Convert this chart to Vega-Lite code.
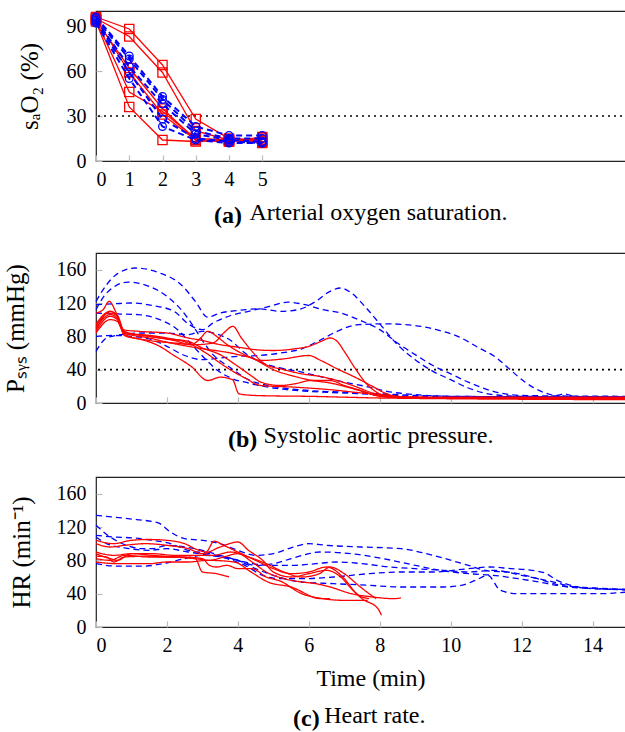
{
  "$schema": "https://vega.github.io/schema/vega-lite/v6.json",
  "padding": {"left": 2, "top": 9, "right": 0, "bottom": 0},
  "spacing": 23,
  "config": {
    "font": "Liberation Serif",
    "view": {"stroke": "#222222", "strokeWidth": 1.2},
    "axis": {"grid": false, "domain": false, "tickColor": "#bbbbbb", "tickSize": -6, "tickWidth": 1.2, "labelPadding": 14, "labelFontSize": 20, "labelColor": "#000000", "labelFont": "Liberation Serif", "titleFont": "Liberation Serif", "titleFontSize": 25, "titleFontWeight": "normal", "titleColor": "#000000"},
    "axisY": {"labelPadding": 16},
    "title": {"font": "Liberation Serif", "fontSize": 24, "fontWeight": "bold", "color": "#000000", "orient": "bottom", "anchor": "start", "frame": "group", "offset": 0, "dy": -24}
  },
  "datasets": {
    "sat": [
      {"s":"RA1","g":"A","t":0,"v":96},{"s":"RA1","g":"A","t":1,"v":88},{"s":"RA1","g":"A","t":2,"v":64},{"s":"RA1","g":"A","t":3,"v":28},{"s":"RA1","g":"A","t":4,"v":15},{"s":"RA1","g":"A","t":5,"v":14},
      {"s":"RA2","g":"A","t":0,"v":95},{"s":"RA2","g":"A","t":1,"v":83},{"s":"RA2","g":"A","t":2,"v":59},{"s":"RA2","g":"A","t":3,"v":20},{"s":"RA2","g":"A","t":4,"v":14},{"s":"RA2","g":"A","t":5,"v":13},
      {"s":"RA3","g":"A","t":0,"v":94},{"s":"RA3","g":"A","t":1,"v":62},{"s":"RA3","g":"A","t":2,"v":35},{"s":"RA3","g":"A","t":3,"v":14},{"s":"RA3","g":"A","t":4,"v":13},{"s":"RA3","g":"A","t":5,"v":16},
      {"s":"RA4","g":"A","t":0,"v":94},{"s":"RA4","g":"A","t":1,"v":46},{"s":"RA4","g":"A","t":2,"v":33},{"s":"RA4","g":"A","t":3,"v":15},{"s":"RA4","g":"A","t":4,"v":14},{"s":"RA4","g":"A","t":5,"v":13},
      {"s":"RA5","g":"A","t":0,"v":93},{"s":"RA5","g":"A","t":1,"v":36},{"s":"RA5","g":"A","t":2,"v":14},{"s":"RA5","g":"A","t":3,"v":13},{"s":"RA5","g":"A","t":4,"v":14},{"s":"RA5","g":"A","t":5,"v":12},
      {"s":"RA6","g":"A","t":0,"v":95},{"s":"RA6","g":"A","t":1,"v":59},{"s":"RA6","g":"A","t":2,"v":31},{"s":"RA6","g":"A","t":3,"v":14},{"s":"RA6","g":"A","t":4,"v":13},{"s":"RA6","g":"A","t":5,"v":15},
      {"s":"BA1","g":"B","t":0,"v":96},{"s":"BA1","g":"B","t":1,"v":70},{"s":"BA1","g":"B","t":2,"v":43},{"s":"BA1","g":"B","t":3,"v":23},{"s":"BA1","g":"B","t":4,"v":17},{"s":"BA1","g":"B","t":5,"v":17},
      {"s":"BA2","g":"B","t":0,"v":95},{"s":"BA2","g":"B","t":1,"v":68},{"s":"BA2","g":"B","t":2,"v":41},{"s":"BA2","g":"B","t":3,"v":20},{"s":"BA2","g":"B","t":4,"v":15},{"s":"BA2","g":"B","t":5,"v":15},
      {"s":"BA3","g":"B","t":0,"v":94},{"s":"BA3","g":"B","t":1,"v":63},{"s":"BA3","g":"B","t":2,"v":38},{"s":"BA3","g":"B","t":3,"v":18},{"s":"BA3","g":"B","t":4,"v":14},{"s":"BA3","g":"B","t":5,"v":13},
      {"s":"BA4","g":"B","t":0,"v":93},{"s":"BA4","g":"B","t":1,"v":59},{"s":"BA4","g":"B","t":2,"v":28},{"s":"BA4","g":"B","t":3,"v":15},{"s":"BA4","g":"B","t":4,"v":13},{"s":"BA4","g":"B","t":5,"v":12},
      {"s":"BA5","g":"B","t":0,"v":92},{"s":"BA5","g":"B","t":1,"v":55},{"s":"BA5","g":"B","t":2,"v":23},{"s":"BA5","g":"B","t":3,"v":14},{"s":"BA5","g":"B","t":4,"v":12},{"s":"BA5","g":"B","t":5,"v":12}
    ],
    "psys": [
      {"s":"PB1","g":"B","t":0,"v":122},{"s":"PB1","g":"B","t":0.3,"v":142},{"s":"PB1","g":"B","t":0.6,"v":155},{"s":"PB1","g":"B","t":1.1,"v":162},{"s":"PB1","g":"B","t":1.8,"v":156},{"s":"PB1","g":"B","t":2.4,"v":142},{"s":"PB1","g":"B","t":2.8,"v":122},{"s":"PB1","g":"B","t":3.15,"v":103},{"s":"PB1","g":"B","t":3.5,"v":108},{"s":"PB1","g":"B","t":4.0,"v":111},{"s":"PB1","g":"B","t":4.6,"v":113},{"s":"PB1","g":"B","t":5.2,"v":110},{"s":"PB1","g":"B","t":5.7,"v":112},{"s":"PB1","g":"B","t":6.2,"v":122},{"s":"PB1","g":"B","t":6.6,"v":134},{"s":"PB1","g":"B","t":6.9,"v":138},{"s":"PB1","g":"B","t":7.2,"v":132},{"s":"PB1","g":"B","t":7.6,"v":115},{"s":"PB1","g":"B","t":8.0,"v":95},{"s":"PB1","g":"B","t":8.5,"v":70},{"s":"PB1","g":"B","t":9.0,"v":52},{"s":"PB1","g":"B","t":9.5,"v":38},{"s":"PB1","g":"B","t":10.0,"v":28},{"s":"PB1","g":"B","t":10.5,"v":18},{"s":"PB1","g":"B","t":11.2,"v":10},{"s":"PB1","g":"B","t":12,"v":8},{"s":"PB1","g":"B","t":15,"v":7},
      {"s":"PB2","g":"B","t":0,"v":112},{"s":"PB2","g":"B","t":0.3,"v":132},{"s":"PB2","g":"B","t":0.9,"v":145},{"s":"PB2","g":"B","t":1.5,"v":140},{"s":"PB2","g":"B","t":2.0,"v":128},{"s":"PB2","g":"B","t":2.4,"v":112},{"s":"PB2","g":"B","t":2.7,"v":95},{"s":"PB2","g":"B","t":3.0,"v":75},{"s":"PB2","g":"B","t":3.3,"v":58},{"s":"PB2","g":"B","t":3.8,"v":42},{"s":"PB2","g":"B","t":4.3,"v":28},{"s":"PB2","g":"B","t":5,"v":20},{"s":"PB2","g":"B","t":6,"v":15},{"s":"PB2","g":"B","t":7,"v":13},{"s":"PB2","g":"B","t":8,"v":11},{"s":"PB2","g":"B","t":9,"v":9},{"s":"PB2","g":"B","t":10,"v":8},{"s":"PB2","g":"B","t":15,"v":7},
      {"s":"PB3","g":"B","t":0,"v":118},{"s":"PB3","g":"B","t":0.5,"v":119},{"s":"PB3","g":"B","t":1.0,"v":120},{"s":"PB3","g":"B","t":1.6,"v":117},{"s":"PB3","g":"B","t":2.2,"v":110},{"s":"PB3","g":"B","t":2.6,"v":95},{"s":"PB3","g":"B","t":3.0,"v":88},{"s":"PB3","g":"B","t":3.3,"v":96},{"s":"PB3","g":"B","t":3.8,"v":105},{"s":"PB3","g":"B","t":4.3,"v":110},{"s":"PB3","g":"B","t":4.9,"v":116},{"s":"PB3","g":"B","t":5.4,"v":121},{"s":"PB3","g":"B","t":5.9,"v":118},{"s":"PB3","g":"B","t":6.4,"v":112},{"s":"PB3","g":"B","t":6.9,"v":108},{"s":"PB3","g":"B","t":7.4,"v":100},{"s":"PB3","g":"B","t":8.0,"v":88},{"s":"PB3","g":"B","t":8.5,"v":72},{"s":"PB3","g":"B","t":9.0,"v":58},{"s":"PB3","g":"B","t":9.5,"v":45},{"s":"PB3","g":"B","t":10.0,"v":35},{"s":"PB3","g":"B","t":10.5,"v":25},{"s":"PB3","g":"B","t":11.2,"v":14},{"s":"PB3","g":"B","t":12,"v":9},{"s":"PB3","g":"B","t":15,"v":8},
      {"s":"PB4","g":"B","t":0,"v":108},{"s":"PB4","g":"B","t":0.5,"v":107},{"s":"PB4","g":"B","t":1.2,"v":106},{"s":"PB4","g":"B","t":1.8,"v":100},{"s":"PB4","g":"B","t":2.3,"v":88},{"s":"PB4","g":"B","t":2.7,"v":70},{"s":"PB4","g":"B","t":3.1,"v":52},{"s":"PB4","g":"B","t":3.4,"v":40},{"s":"PB4","g":"B","t":3.8,"v":30},{"s":"PB4","g":"B","t":4.3,"v":24},{"s":"PB4","g":"B","t":5.0,"v":18},{"s":"PB4","g":"B","t":6.0,"v":14},{"s":"PB4","g":"B","t":7.0,"v":12},{"s":"PB4","g":"B","t":8,"v":10},{"s":"PB4","g":"B","t":9,"v":8},{"s":"PB4","g":"B","t":15,"v":7},
      {"s":"PB5","g":"B","t":0,"v":80},{"s":"PB5","g":"B","t":0.5,"v":81},{"s":"PB5","g":"B","t":1.0,"v":80},{"s":"PB5","g":"B","t":1.5,"v":77},{"s":"PB5","g":"B","t":2.0,"v":68},{"s":"PB5","g":"B","t":2.5,"v":57},{"s":"PB5","g":"B","t":3.0,"v":52},{"s":"PB5","g":"B","t":3.5,"v":54},{"s":"PB5","g":"B","t":4.0,"v":56},{"s":"PB5","g":"B","t":4.6,"v":57},{"s":"PB5","g":"B","t":5.2,"v":60},{"s":"PB5","g":"B","t":5.8,"v":65},{"s":"PB5","g":"B","t":6.3,"v":75},{"s":"PB5","g":"B","t":6.8,"v":86},{"s":"PB5","g":"B","t":7.4,"v":94},{"s":"PB5","g":"B","t":8.2,"v":95},{"s":"PB5","g":"B","t":9.0,"v":93},{"s":"PB5","g":"B","t":9.6,"v":88},{"s":"PB5","g":"B","t":10.2,"v":80},{"s":"PB5","g":"B","t":10.8,"v":66},{"s":"PB5","g":"B","t":11.3,"v":54},{"s":"PB5","g":"B","t":11.6,"v":43},{"s":"PB5","g":"B","t":12.1,"v":25},{"s":"PB5","g":"B","t":12.6,"v":13},{"s":"PB5","g":"B","t":13.0,"v":9},{"s":"PB5","g":"B","t":13.2,"v":11},{"s":"PB5","g":"B","t":13.5,"v":8},{"s":"PB5","g":"B","t":15,"v":7},
      {"s":"PB6","g":"B","t":0,"v":62},{"s":"PB6","g":"B","t":0.3,"v":78},{"s":"PB6","g":"B","t":0.7,"v":82},{"s":"PB6","g":"B","t":1.3,"v":84},{"s":"PB6","g":"B","t":2.0,"v":84},{"s":"PB6","g":"B","t":2.6,"v":82},{"s":"PB6","g":"B","t":3.0,"v":86},{"s":"PB6","g":"B","t":3.3,"v":84},{"s":"PB6","g":"B","t":3.8,"v":75},{"s":"PB6","g":"B","t":4.2,"v":60},{"s":"PB6","g":"B","t":4.6,"v":50},{"s":"PB6","g":"B","t":5.2,"v":42},{"s":"PB6","g":"B","t":5.8,"v":37},{"s":"PB6","g":"B","t":6.3,"v":32},{"s":"PB6","g":"B","t":7.0,"v":25},{"s":"PB6","g":"B","t":7.6,"v":20},{"s":"PB6","g":"B","t":8.2,"v":14},{"s":"PB6","g":"B","t":9,"v":10},{"s":"PB6","g":"B","t":10,"v":8},{"s":"PB6","g":"B","t":15,"v":7},
      {"s":"PR1","g":"A","t":0,"v":108},{"s":"PR1","g":"A","t":0.2,"v":112},{"s":"PR1","g":"A","t":0.37,"v":122},{"s":"PR1","g":"A","t":0.55,"v":110},{"s":"PR1","g":"A","t":0.75,"v":88},{"s":"PR1","g":"A","t":1.2,"v":86},{"s":"PR1","g":"A","t":2.0,"v":84},{"s":"PR1","g":"A","t":2.6,"v":78},{"s":"PR1","g":"A","t":3.0,"v":75},{"s":"PR1","g":"A","t":3.5,"v":70},{"s":"PR1","g":"A","t":4.0,"v":67},{"s":"PR1","g":"A","t":4.5,"v":64},{"s":"PR1","g":"A","t":5.0,"v":63},{"s":"PR1","g":"A","t":5.6,"v":65},{"s":"PR1","g":"A","t":6.0,"v":68},{"s":"PR1","g":"A","t":6.35,"v":74},{"s":"PR1","g":"A","t":6.6,"v":78},{"s":"PR1","g":"A","t":6.8,"v":74},{"s":"PR1","g":"A","t":7.0,"v":62},{"s":"PR1","g":"A","t":7.3,"v":42},{"s":"PR1","g":"A","t":7.65,"v":22},{"s":"PR1","g":"A","t":8.0,"v":11},{"s":"PR1","g":"A","t":8.4,"v":7},{"s":"PR1","g":"A","t":10,"v":6},{"s":"PR1","g":"A","t":15,"v":6},
      {"s":"PR2","g":"A","t":0,"v":92},{"s":"PR2","g":"A","t":0.35,"v":108},{"s":"PR2","g":"A","t":0.6,"v":105},{"s":"PR2","g":"A","t":0.8,"v":86},{"s":"PR2","g":"A","t":1.5,"v":80},{"s":"PR2","g":"A","t":2.2,"v":75},{"s":"PR2","g":"A","t":2.7,"v":70},{"s":"PR2","g":"A","t":2.95,"v":78},{"s":"PR2","g":"A","t":3.15,"v":86},{"s":"PR2","g":"A","t":3.4,"v":80},{"s":"PR2","g":"A","t":3.7,"v":70},{"s":"PR2","g":"A","t":4.0,"v":62},{"s":"PR2","g":"A","t":4.5,"v":52},{"s":"PR2","g":"A","t":5.0,"v":40},{"s":"PR2","g":"A","t":5.6,"v":32},{"s":"PR2","g":"A","t":6.1,"v":27},{"s":"PR2","g":"A","t":6.6,"v":24},{"s":"PR2","g":"A","t":7.0,"v":20},{"s":"PR2","g":"A","t":7.5,"v":14},{"s":"PR2","g":"A","t":7.9,"v":9},{"s":"PR2","g":"A","t":8.3,"v":7},{"s":"PR2","g":"A","t":10,"v":6},{"s":"PR2","g":"A","t":15,"v":5},
      {"s":"PR3","g":"A","t":0,"v":88},{"s":"PR3","g":"A","t":0.4,"v":110},{"s":"PR3","g":"A","t":0.6,"v":104},{"s":"PR3","g":"A","t":0.8,"v":82},{"s":"PR3","g":"A","t":1.5,"v":75},{"s":"PR3","g":"A","t":2.2,"v":72},{"s":"PR3","g":"A","t":2.8,"v":70},{"s":"PR3","g":"A","t":3.3,"v":72},{"s":"PR3","g":"A","t":3.6,"v":84},{"s":"PR3","g":"A","t":3.86,"v":92},{"s":"PR3","g":"A","t":4.1,"v":78},{"s":"PR3","g":"A","t":4.4,"v":62},{"s":"PR3","g":"A","t":4.75,"v":47},{"s":"PR3","g":"A","t":5.3,"v":40},{"s":"PR3","g":"A","t":5.8,"v":35},{"s":"PR3","g":"A","t":6.3,"v":32},{"s":"PR3","g":"A","t":6.8,"v":27},{"s":"PR3","g":"A","t":7.3,"v":20},{"s":"PR3","g":"A","t":7.8,"v":12},{"s":"PR3","g":"A","t":8.2,"v":8},{"s":"PR3","g":"A","t":10,"v":7},{"s":"PR3","g":"A","t":15,"v":7},
      {"s":"PR4","g":"A","t":0,"v":95},{"s":"PR4","g":"A","t":0.4,"v":110},{"s":"PR4","g":"A","t":0.6,"v":105},{"s":"PR4","g":"A","t":0.8,"v":81},{"s":"PR4","g":"A","t":1.3,"v":76},{"s":"PR4","g":"A","t":1.75,"v":69},{"s":"PR4","g":"A","t":2.2,"v":57},{"s":"PR4","g":"A","t":2.68,"v":44},{"s":"PR4","g":"A","t":3.15,"v":27},{"s":"PR4","g":"A","t":3.5,"v":31},{"s":"PR4","g":"A","t":3.85,"v":28},{"s":"PR4","g":"A","t":4.03,"v":11},{"s":"PR4","g":"A","t":4.5,"v":9},{"s":"PR4","g":"A","t":5,"v":8.5},{"s":"PR4","g":"A","t":6,"v":8},{"s":"PR4","g":"A","t":7,"v":7},{"s":"PR4","g":"A","t":8,"v":6},{"s":"PR4","g":"A","t":15,"v":4},
      {"s":"PR5","g":"A","t":0,"v":86},{"s":"PR5","g":"A","t":0.4,"v":104},{"s":"PR5","g":"A","t":0.6,"v":100},{"s":"PR5","g":"A","t":0.8,"v":84},{"s":"PR5","g":"A","t":1.5,"v":78},{"s":"PR5","g":"A","t":2.0,"v":73},{"s":"PR5","g":"A","t":2.6,"v":68},{"s":"PR5","g":"A","t":3.2,"v":64},{"s":"PR5","g":"A","t":3.8,"v":60},{"s":"PR5","g":"A","t":4.3,"v":55},{"s":"PR5","g":"A","t":4.65,"v":51},{"s":"PR5","g":"A","t":5.3,"v":53},{"s":"PR5","g":"A","t":6.0,"v":57},{"s":"PR5","g":"A","t":6.34,"v":51},{"s":"PR5","g":"A","t":6.8,"v":41},{"s":"PR5","g":"A","t":7.3,"v":31},{"s":"PR5","g":"A","t":7.75,"v":21},{"s":"PR5","g":"A","t":8.2,"v":11},{"s":"PR5","g":"A","t":8.6,"v":7},{"s":"PR5","g":"A","t":10,"v":6},{"s":"PR5","g":"A","t":15,"v":6},
      {"s":"PR6","g":"A","t":0,"v":90},{"s":"PR6","g":"A","t":0.4,"v":106},{"s":"PR6","g":"A","t":0.6,"v":102},{"s":"PR6","g":"A","t":0.8,"v":85},{"s":"PR6","g":"A","t":1.5,"v":80},{"s":"PR6","g":"A","t":2.0,"v":77},{"s":"PR6","g":"A","t":2.6,"v":74},{"s":"PR6","g":"A","t":3.0,"v":66},{"s":"PR6","g":"A","t":3.5,"v":58},{"s":"PR6","g":"A","t":4.0,"v":44},{"s":"PR6","g":"A","t":4.4,"v":32},{"s":"PR6","g":"A","t":4.65,"v":25},{"s":"PR6","g":"A","t":5.2,"v":21},{"s":"PR6","g":"A","t":5.6,"v":23},{"s":"PR6","g":"A","t":6.06,"v":27},{"s":"PR6","g":"A","t":6.6,"v":27},{"s":"PR6","g":"A","t":7.0,"v":21},{"s":"PR6","g":"A","t":7.47,"v":15},{"s":"PR6","g":"A","t":7.9,"v":9},{"s":"PR6","g":"A","t":8.3,"v":7},{"s":"PR6","g":"A","t":10,"v":6},{"s":"PR6","g":"A","t":15,"v":5},
      {"s":"PR7","g":"A","t":0,"v":84},{"s":"PR7","g":"A","t":0.4,"v":100},{"s":"PR7","g":"A","t":0.6,"v":98},{"s":"PR7","g":"A","t":0.8,"v":83},{"s":"PR7","g":"A","t":1.3,"v":82},{"s":"PR7","g":"A","t":2.0,"v":78},{"s":"PR7","g":"A","t":2.6,"v":72},{"s":"PR7","g":"A","t":3.1,"v":60},{"s":"PR7","g":"A","t":3.6,"v":45},{"s":"PR7","g":"A","t":4.2,"v":30},{"s":"PR7","g":"A","t":4.65,"v":21},{"s":"PR7","g":"A","t":5.6,"v":19},{"s":"PR7","g":"A","t":6.6,"v":16},{"s":"PR7","g":"A","t":7.5,"v":12},{"s":"PR7","g":"A","t":8.3,"v":9},{"s":"PR7","g":"A","t":8.8,"v":7},{"s":"PR7","g":"A","t":10,"v":6},{"s":"PR7","g":"A","t":15,"v":6}
    ],
    "hr": [
      {"s":"HB1","g":"B","t":0,"v":134},{"s":"HB1","g":"B","t":0.9,"v":130},{"s":"HB1","g":"B","t":1.75,"v":125},{"s":"HB1","g":"B","t":2.1,"v":114},{"s":"HB1","g":"B","t":2.5,"v":106},{"s":"HB1","g":"B","t":3.0,"v":104},{"s":"HB1","g":"B","t":3.5,"v":100},{"s":"HB1","g":"B","t":4.0,"v":92},{"s":"HB1","g":"B","t":4.5,"v":86},{"s":"HB1","g":"B","t":5.0,"v":88},{"s":"HB1","g":"B","t":5.5,"v":95},{"s":"HB1","g":"B","t":6.0,"v":100},{"s":"HB1","g":"B","t":6.5,"v":98},{"s":"HB1","g":"B","t":7.5,"v":96},{"s":"HB1","g":"B","t":8.6,"v":94},{"s":"HB1","g":"B","t":9.5,"v":86},{"s":"HB1","g":"B","t":10.5,"v":74},{"s":"HB1","g":"B","t":11.1,"v":67},{"s":"HB1","g":"B","t":11.6,"v":66},{"s":"HB1","g":"B","t":12.3,"v":60},{"s":"HB1","g":"B","t":12.9,"v":52},{"s":"HB1","g":"B","t":13.3,"v":48},{"s":"HB1","g":"B","t":14.2,"v":46},{"s":"HB1","g":"B","t":15,"v":44},
      {"s":"HB2","g":"B","t":0,"v":122},{"s":"HB2","g":"B","t":0.4,"v":108},{"s":"HB2","g":"B","t":0.8,"v":99},{"s":"HB2","g":"B","t":1.3,"v":94},{"s":"HB2","g":"B","t":1.6,"v":94},{"s":"HB2","g":"B","t":2.0,"v":98},{"s":"HB2","g":"B","t":2.5,"v":96},{"s":"HB2","g":"B","t":3.0,"v":92},{"s":"HB2","g":"B","t":3.5,"v":86},{"s":"HB2","g":"B","t":4.0,"v":80},{"s":"HB2","g":"B","t":4.5,"v":74},{"s":"HB2","g":"B","t":5.0,"v":76},{"s":"HB2","g":"B","t":5.5,"v":82},{"s":"HB2","g":"B","t":6.0,"v":88},{"s":"HB2","g":"B","t":6.3,"v":90},{"s":"HB2","g":"B","t":7.2,"v":88},{"s":"HB2","g":"B","t":8.1,"v":82},{"s":"HB2","g":"B","t":9.0,"v":74},{"s":"HB2","g":"B","t":9.7,"v":68},{"s":"HB2","g":"B","t":10.5,"v":64},{"s":"HB2","g":"B","t":11.2,"v":62},{"s":"HB2","g":"B","t":11.9,"v":58},{"s":"HB2","g":"B","t":12.5,"v":54},{"s":"HB2","g":"B","t":13,"v":50},{"s":"HB2","g":"B","t":14,"v":47},{"s":"HB2","g":"B","t":15,"v":45},
      {"s":"HB3","g":"B","t":0,"v":110},{"s":"HB3","g":"B","t":0.5,"v":108},{"s":"HB3","g":"B","t":1.0,"v":107},{"s":"HB3","g":"B","t":1.6,"v":104},{"s":"HB3","g":"B","t":2.1,"v":100},{"s":"HB3","g":"B","t":2.6,"v":92},{"s":"HB3","g":"B","t":3.2,"v":88},{"s":"HB3","g":"B","t":3.7,"v":82},{"s":"HB3","g":"B","t":4.2,"v":74},{"s":"HB3","g":"B","t":4.7,"v":62},{"s":"HB3","g":"B","t":5.2,"v":58},{"s":"HB3","g":"B","t":5.8,"v":58},{"s":"HB3","g":"B","t":6.7,"v":60},{"s":"HB3","g":"B","t":7.7,"v":64},{"s":"HB3","g":"B","t":8.6,"v":66},{"s":"HB3","g":"B","t":9.5,"v":66},{"s":"HB3","g":"B","t":10.5,"v":70},{"s":"HB3","g":"B","t":11.1,"v":72},{"s":"HB3","g":"B","t":11.7,"v":70},{"s":"HB3","g":"B","t":12.3,"v":68},{"s":"HB3","g":"B","t":12.7,"v":64},{"s":"HB3","g":"B","t":13.0,"v":56},{"s":"HB3","g":"B","t":14,"v":46},{"s":"HB3","g":"B","t":15,"v":45},
      {"s":"HB4","g":"B","t":0,"v":108},{"s":"HB4","g":"B","t":0.3,"v":100},{"s":"HB4","g":"B","t":0.8,"v":95},{"s":"HB4","g":"B","t":1.5,"v":92},{"s":"HB4","g":"B","t":2.0,"v":94},{"s":"HB4","g":"B","t":2.6,"v":90},{"s":"HB4","g":"B","t":3.2,"v":86},{"s":"HB4","g":"B","t":3.8,"v":82},{"s":"HB4","g":"B","t":4.4,"v":76},{"s":"HB4","g":"B","t":5.0,"v":74},{"s":"HB4","g":"B","t":5.6,"v":74},{"s":"HB4","g":"B","t":6.2,"v":76},{"s":"HB4","g":"B","t":6.8,"v":78},{"s":"HB4","g":"B","t":7.5,"v":76},{"s":"HB4","g":"B","t":8.3,"v":72},{"s":"HB4","g":"B","t":9.0,"v":70},{"s":"HB4","g":"B","t":9.8,"v":68},{"s":"HB4","g":"B","t":10.5,"v":66},{"s":"HB4","g":"B","t":11.2,"v":68},{"s":"HB4","g":"B","t":12.0,"v":62},{"s":"HB4","g":"B","t":12.8,"v":55},{"s":"HB4","g":"B","t":13.5,"v":48},{"s":"HB4","g":"B","t":14.2,"v":46},{"s":"HB4","g":"B","t":15,"v":45},
      {"s":"HB5","g":"B","t":0,"v":76},{"s":"HB5","g":"B","t":0.6,"v":73},{"s":"HB5","g":"B","t":1.3,"v":73},{"s":"HB5","g":"B","t":1.9,"v":76},{"s":"HB5","g":"B","t":2.5,"v":82},{"s":"HB5","g":"B","t":3.0,"v":86},{"s":"HB5","g":"B","t":3.5,"v":85},{"s":"HB5","g":"B","t":4.0,"v":80},{"s":"HB5","g":"B","t":4.5,"v":70},{"s":"HB5","g":"B","t":5.0,"v":62},{"s":"HB5","g":"B","t":5.8,"v":54},{"s":"HB5","g":"B","t":6.7,"v":52},{"s":"HB5","g":"B","t":7.7,"v":50},{"s":"HB5","g":"B","t":8.6,"v":48},{"s":"HB5","g":"B","t":9.8,"v":48},{"s":"HB5","g":"B","t":10.3,"v":50},{"s":"HB5","g":"B","t":10.7,"v":56},{"s":"HB5","g":"B","t":11.05,"v":62},{"s":"HB5","g":"B","t":11.4,"v":44},{"s":"HB5","g":"B","t":11.9,"v":40},{"s":"HB5","g":"B","t":12.8,"v":40},{"s":"HB5","g":"B","t":14.2,"v":40},{"s":"HB5","g":"B","t":15,"v":42},
      {"s":"HR1","g":"A","t":0,"v":104},{"s":"HR1","g":"A","t":0.5,"v":100},{"s":"HR1","g":"A","t":1.0,"v":104},{"s":"HR1","g":"A","t":1.5,"v":105},{"s":"HR1","g":"A","t":2.0,"v":104},{"s":"HR1","g":"A","t":2.5,"v":100},{"s":"HR1","g":"A","t":2.9,"v":92},{"s":"HR1","g":"A","t":3.1,"v":90},{"s":"HR1","g":"A","t":3.33,"v":103},{"s":"HR1","g":"A","t":3.6,"v":98},{"s":"HR1","g":"A","t":4.0,"v":90},{"s":"HR1","g":"A","t":4.5,"v":80},{"s":"HR1","g":"A","t":5.0,"v":70},{"s":"HR1","g":"A","t":5.5,"v":64},{"s":"HR1","g":"A","t":6.0,"v":66},{"s":"HR1","g":"A","t":6.5,"v":72},{"s":"HR1","g":"A","t":7.0,"v":58},{"s":"HR1","g":"A","t":7.3,"v":42},{"s":"HR1","g":"A","t":7.5,"v":34},{"s":"HR1","g":"A","t":7.95,"v":22},{"s":"HR1","g":"A","t":8.05,"v":14},
      {"s":"HR2","g":"A","t":0,"v":100},{"s":"HR2","g":"A","t":0.4,"v":96},{"s":"HR2","g":"A","t":0.8,"v":98},{"s":"HR2","g":"A","t":1.4,"v":100},{"s":"HR2","g":"A","t":2.0,"v":98},{"s":"HR2","g":"A","t":2.6,"v":94},{"s":"HR2","g":"A","t":3.0,"v":88},{"s":"HR2","g":"A","t":3.5,"v":96},{"s":"HR2","g":"A","t":4.0,"v":102},{"s":"HR2","g":"A","t":4.3,"v":92},{"s":"HR2","g":"A","t":4.7,"v":80},{"s":"HR2","g":"A","t":5.0,"v":66},{"s":"HR2","g":"A","t":5.5,"v":60},{"s":"HR2","g":"A","t":6.0,"v":64},{"s":"HR2","g":"A","t":6.5,"v":68},{"s":"HR2","g":"A","t":6.9,"v":60},{"s":"HR2","g":"A","t":7.2,"v":46},{"s":"HR2","g":"A","t":7.4,"v":38},{"s":"HR2","g":"A","t":7.7,"v":34},
      {"s":"HR3","g":"A","t":0,"v":90},{"s":"HR3","g":"A","t":0.5,"v":86},{"s":"HR3","g":"A","t":1.0,"v":88},{"s":"HR3","g":"A","t":1.6,"v":86},{"s":"HR3","g":"A","t":2.2,"v":84},{"s":"HR3","g":"A","t":2.8,"v":82},{"s":"HR3","g":"A","t":3.2,"v":80},{"s":"HR3","g":"A","t":3.6,"v":84},{"s":"HR3","g":"A","t":4.0,"v":88},{"s":"HR3","g":"A","t":4.4,"v":78},{"s":"HR3","g":"A","t":4.8,"v":66},{"s":"HR3","g":"A","t":5.3,"v":58},{"s":"HR3","g":"A","t":5.8,"v":54},{"s":"HR3","g":"A","t":6.2,"v":52},{"s":"HR3","g":"A","t":6.6,"v":48},{"s":"HR3","g":"A","t":7.2,"v":40},{"s":"HR3","g":"A","t":7.8,"v":36},{"s":"HR3","g":"A","t":8.4,"v":34},{"s":"HR3","g":"A","t":8.6,"v":35},
      {"s":"HR4","g":"A","t":0,"v":85},{"s":"HR4","g":"A","t":0.3,"v":84},{"s":"HR4","g":"A","t":0.5,"v":78},{"s":"HR4","g":"A","t":0.8,"v":84},{"s":"HR4","g":"A","t":1.5,"v":85},{"s":"HR4","g":"A","t":2.0,"v":84},{"s":"HR4","g":"A","t":2.5,"v":84},{"s":"HR4","g":"A","t":3.0,"v":82},{"s":"HR4","g":"A","t":3.2,"v":74},{"s":"HR4","g":"A","t":3.4,"v":72},{"s":"HR4","g":"A","t":3.7,"v":74},{"s":"HR4","g":"A","t":4.0,"v":70},{"s":"HR4","g":"A","t":4.4,"v":70},{"s":"HR4","g":"A","t":4.8,"v":60},{"s":"HR4","g":"A","t":5.2,"v":55},{"s":"HR4","g":"A","t":5.8,"v":40},{"s":"HR4","g":"A","t":6.4,"v":34},{"s":"HR4","g":"A","t":7.0,"v":32},{"s":"HR4","g":"A","t":7.66,"v":32},
      {"s":"HR5","g":"A","t":0,"v":82},{"s":"HR5","g":"A","t":0.4,"v":80},{"s":"HR5","g":"A","t":0.8,"v":86},{"s":"HR5","g":"A","t":1.5,"v":84},{"s":"HR5","g":"A","t":2.2,"v":84},{"s":"HR5","g":"A","t":2.8,"v":82},{"s":"HR5","g":"A","t":3.0,"v":66},{"s":"HR5","g":"A","t":3.4,"v":64},{"s":"HR5","g":"A","t":3.75,"v":60},
      {"s":"HR6","g":"A","t":0,"v":78},{"s":"HR6","g":"A","t":0.6,"v":76},{"s":"HR6","g":"A","t":1.5,"v":76},{"s":"HR6","g":"A","t":2.0,"v":78},{"s":"HR6","g":"A","t":2.6,"v":78},{"s":"HR6","g":"A","t":3.15,"v":80},{"s":"HR6","g":"A","t":3.9,"v":78},{"s":"HR6","g":"A","t":4.37,"v":66},{"s":"HR6","g":"A","t":4.85,"v":54},{"s":"HR6","g":"A","t":5.5,"v":48},{"s":"HR6","g":"A","t":6.34,"v":34},{"s":"HR6","g":"A","t":6.6,"v":34},
      {"s":"HR7","g":"A","t":0,"v":88},{"s":"HR7","g":"A","t":0.4,"v":82},{"s":"HR7","g":"A","t":0.6,"v":80},{"s":"HR7","g":"A","t":1.0,"v":88},{"s":"HR7","g":"A","t":1.6,"v":88},{"s":"HR7","g":"A","t":2.2,"v":86},{"s":"HR7","g":"A","t":2.7,"v":86},{"s":"HR7","g":"A","t":3.3,"v":86},{"s":"HR7","g":"A","t":3.8,"v":90},{"s":"HR7","g":"A","t":4.3,"v":84},{"s":"HR7","g":"A","t":4.8,"v":76},{"s":"HR7","g":"A","t":5.3,"v":66},{"s":"HR7","g":"A","t":5.8,"v":60},{"s":"HR7","g":"A","t":6.3,"v":64},{"s":"HR7","g":"A","t":6.6,"v":72},{"s":"HR7","g":"A","t":7.0,"v":64},{"s":"HR7","g":"A","t":7.4,"v":50},{"s":"HR7","g":"A","t":7.7,"v":40},{"s":"HR7","g":"A","t":7.9,"v":34}
    ],
    "thrA": [{"v": 30}],
    "thrB": [{"v": 40}]
  },
  "vconcat": [
    {
      "width": 532, "height": 150,
      "title": {"text": "(a)", "dx": 118},
      "layer": [
        {"data": {"name": "thrA"}, "mark": {"type": "rule", "color": "#000000", "strokeDash": [2, 4], "strokeWidth": 1.6},
         "encoding": {"y": {"field": "v", "type": "quantitative", "scale": {"domain": [0, 100]}, "axis": {"values": [0, 30, 60, 90], "title": "sₐO₂ (%)", "titlePadding": 24}}}},
        {"data": {"name": "sat"}, "transform": [{"filter": "datum.g === 'A'"}], "mark": {"type": "line", "color": "#ff0000", "strokeWidth": 1.3},
         "encoding": {"x": {"field": "t", "type": "quantitative", "scale": {"domain": [0, 15]}, "axis": {"values": [0, 1, 2, 3, 4, 5], "title": "Arterial oxygen saturation.", "titleFontSize": 24, "titleX": 153, "titleAlign": "left", "titlePadding": 11}},
                      "y": {"field": "v", "type": "quantitative", "scale": {"domain": [0, 100]}, "axis": {"values": [0, 30, 60, 90], "title": "sₐO₂ (%)", "titlePadding": 24}},
                      "detail": {"field": "s"}}},
        {"data": {"name": "sat"}, "transform": [{"filter": "datum.g === 'A'"}], "mark": {"type": "point", "shape": "square", "filled": false, "color": "#ff0000", "size": 85, "strokeWidth": 1.3, "opacity": 1},
         "encoding": {"x": {"field": "t", "type": "quantitative"}, "y": {"field": "v", "type": "quantitative"}}},
        {"data": {"name": "sat"}, "transform": [{"filter": "datum.g === 'B'"}], "mark": {"type": "line", "color": "#0000ff", "strokeWidth": 2, "strokeDash": [6, 4]},
         "encoding": {"x": {"field": "t", "type": "quantitative"}, "y": {"field": "v", "type": "quantitative"}, "detail": {"field": "s"}}},
        {"data": {"name": "sat"}, "transform": [{"filter": "datum.g === 'B'"}], "mark": {"type": "point", "shape": "circle", "filled": false, "color": "#0000ff", "size": 60, "strokeWidth": 1.3, "opacity": 1},
         "encoding": {"x": {"field": "t", "type": "quantitative"}, "y": {"field": "v", "type": "quantitative"}}}
      ]
    },
    {
      "width": 532, "height": 150,
      "title": {"text": "(b)", "dx": 132},
      "layer": [
        {"data": {"name": "thrB"}, "mark": {"type": "rule", "color": "#000000", "strokeDash": [2, 4], "strokeWidth": 1.6},
         "encoding": {"y": {"field": "v", "type": "quantitative", "scale": {"domain": [0, 180]}, "axis": {"values": [0, 40, 80, 120, 160], "title": "Pₛᵧₛ (mmHg)", "titlePadding": 28}}}},
        {"data": {"name": "psys"}, "mark": {"type": "line", "interpolate": "monotone", "strokeWidth": 1.3},
         "encoding": {"x": {"field": "t", "type": "quantitative", "scale": {"domain": [0, 15]}, "axis": {"values": [0, 2, 4, 6, 8, 10, 12, 14], "labels": false, "title": "Systolic aortic pressure.", "titleFontSize": 24, "titleX": 167, "titleAlign": "left", "titlePadding": 20}},
                      "y": {"field": "v", "type": "quantitative", "scale": {"domain": [0, 180]}, "axis": {"values": [0, 40, 80, 120, 160], "title": "Pₛᵧₛ (mmHg)", "titlePadding": 28}},
                      "detail": {"field": "s"},
                      "color": {"field": "g", "type": "nominal", "scale": {"domain": ["A", "B"], "range": ["#ff0000", "#0000ff"]}, "legend": null},
                      "strokeDash": {"field": "g", "type": "nominal", "scale": {"domain": ["A", "B"], "range": [[1, 0], [6, 4]]}, "legend": null}}}
      ]
    },
    {
      "width": 532, "height": 150,
      "title": {"text": "(c)", "dx": 197},
      "layer": [
        {"data": {"name": "hr"}, "mark": {"type": "line", "interpolate": "monotone", "strokeWidth": 1.3},
         "encoding": {"x": {"field": "t", "type": "quantitative", "scale": {"domain": [0, 15]}, "axis": {"values": [0, 2, 4, 6, 8, 10, 12, 14], "title": ["Time (min)", "Heart rate."], "titleFontSize": 24, "titleLineHeight": 37, "titleX": 329, "titleAlign": "right", "titlePadding": 11}},
                      "y": {"field": "v", "type": "quantitative", "scale": {"domain": [0, 180]}, "axis": {"values": [0, 40, 80, 120, 160], "title": "HR (min⁻¹)", "titlePadding": 22}},
                      "detail": {"field": "s"},
                      "color": {"field": "g", "type": "nominal", "scale": {"domain": ["A", "B"], "range": ["#ff0000", "#0000ff"]}, "legend": null},
                      "strokeDash": {"field": "g", "type": "nominal", "scale": {"domain": ["A", "B"], "range": [[1, 0], [6, 4]]}, "legend": null}}}
      ]
    }
  ]
}
